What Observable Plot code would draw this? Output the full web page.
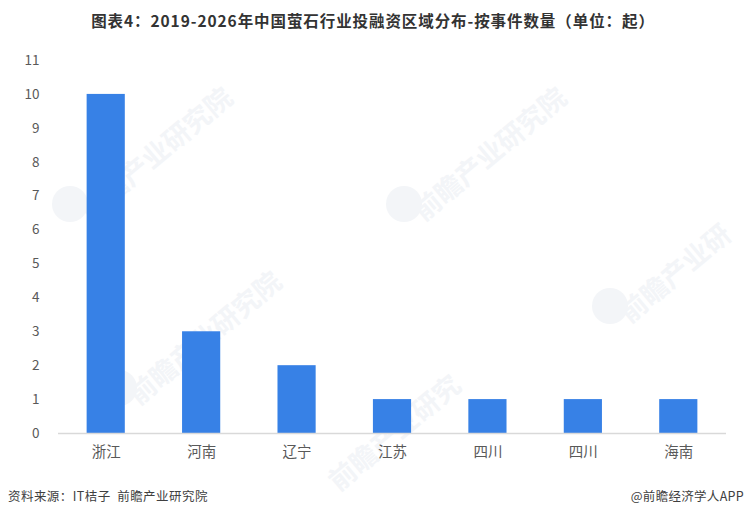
<!DOCTYPE html>
<html><head><meta charset="utf-8">
<script src="https://cdn.jsdelivr.net/npm/d3@7"></script>
<script src="https://cdn.jsdelivr.net/npm/@observablehq/plot@0.6"></script>
<style>
html,body{margin:0;padding:0;background:#fff;}
#page{position:relative;width:744px;height:517px;overflow:hidden;font-family:"Noto Sans CJK SC","Noto Sans",sans-serif;}
#title{position:absolute;left:2px;right:0;top:8px;text-align:center;font-size:15.5px;font-weight:700;letter-spacing:.92px;color:#333;white-space:nowrap;line-height:24px;}
#chart{position:absolute;left:0;top:40px;}
#chart svg{background:transparent;display:block;}
.foot{position:absolute;top:487px;font-size:12.5px;color:#404040;white-space:nowrap;line-height:18px;}
.wm{position:absolute;white-space:nowrap;color:#f3f5f8;font-weight:700;font-size:27px;line-height:32px;transform:rotate(-40deg);transform-origin:left bottom;}
.logo{position:absolute;width:36px;height:36px;border-radius:50%;background:#f3f5f8;}
</style></head>
<body>
<div id="page">
<div id="wms"></div>
<div id="title">图表4：2019-2026年中国萤石行业投融资区域分布-按事件数量（单位：起）</div>
<div id="chart"></div>
<div class="foot" style="left:8px;letter-spacing:.45px">资料来源：IT桔子&nbsp;&nbsp;前瞻产业研究院</div>
<div class="foot" style="right:0;letter-spacing:.3px">@前瞻经济学人APP</div>
</div>
<script>
const regions = ["浙江","河南","辽宁","江苏","四川","四川","海南"];
const counts = [10,3,2,1,1,1,1];
const yTicks = [0,1,2,3,4,5,6,7,8,9,10,11];
const watermarks = [
  ["前瞻产业研究院",86,226,true],
  ["前瞻产业研究院",420,226,true],
  ["前瞻产业研",626,328,true],
  ["前瞻产业研究院",135,410,true],
  ["前瞻产业研究",335,496,false]
];

const wms = document.getElementById("wms");
for (const [txt,l,t,logo] of watermarks) {
  const s = document.createElement("div");
  s.className = "wm"; s.textContent = txt;
  s.style.left = (l + 7) + "px"; s.style.top = (t - 32) + "px";
  wms.appendChild(s);
  if (logo) {
    const c = document.createElement("div");
    c.className = "logo";
    c.style.left = (l - 34) + "px"; c.style.top = (t - 40) + "px";
    wms.appendChild(c);
  }
}

const rows = regions.map((r,i)=>({i, r, v:counts[i]}));
const chart = Plot.plot({
  width:744, height:430,
  marginLeft:58, marginRight:18, marginTop:20, marginBottom:37,
  style:{fontFamily:'"Noto Sans CJK SC","Noto Sans",sans-serif', background:"transparent", overflow:"visible"},
  x:{domain:regions.map((_,i)=>i), paddingInner:0.6, paddingOuter:0.3, align:0.5, round:false, label:null},
  y:{domain:[0,11], label:null},
  marks:[
    Plot.barY(rows,{x:"i",y:"v",fill:"#3781e6"}),
    Plot.ruleY([0],{stroke:"#d9d9d9",strokeWidth:1.3}),
    Plot.axisY({ticks:yTicks,tickSize:0,tickPadding:0,tickFormat:d=>String(d),fontSize:13.5,color:"#595959",dx:-19,label:null}),
    Plot.axisX({tickSize:0,tickPadding:13,tickFormat:i=>regions[i],fontSize:14.5,color:"#595959",label:null})
  ]
});
document.getElementById("chart").appendChild(chart);
</script>
</body></html>
